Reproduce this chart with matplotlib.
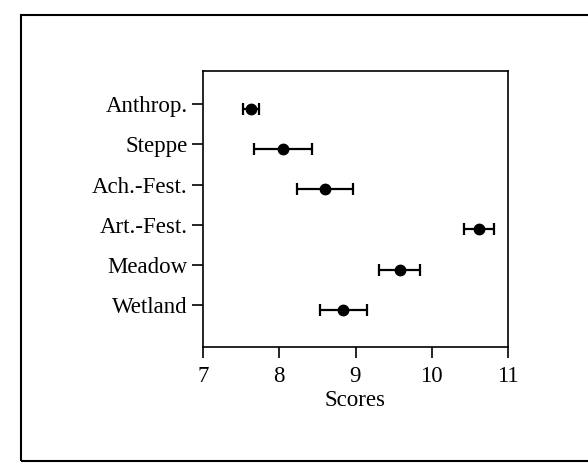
import matplotlib
matplotlib.use("Agg")
import matplotlib.pyplot as plt
from matplotlib.patches import Rectangle

categories = ["Anthrop.", "Steppe", "Ach.-Fest.", "Art.-Fest.", "Meadow", "Wetland"]
scores = [7.63, 8.05, 8.60, 10.62, 9.58, 8.84]
errors = [0.10, 0.38, 0.37, 0.20, 0.27, 0.31]
xticks = [7, 8, 9, 10, 11]

plt.rcParams['font.family'] = ['Liberation Serif', 'DejaVu Serif']

fig = plt.figure(figsize=(5.88, 4.72), dpi=100)
fig.patches.append(Rectangle((21/588, 1-461/472), 600/588, 446/472, transform=fig.transFigure,
                             fill=False, edgecolor='black', linewidth=1.5))
ax = fig.add_axes([203/588, 1-347/472, 305/588, 276/472])
ypos = list(range(len(categories)))
ax.errorbar(scores, [y + 0.12 for y in ypos], xerr=errors, fmt='o', color='black',
            markersize=7.5, capsize=4, elinewidth=1.6, capthick=1.6)
ax.set_xlim(7, 11)
ax.set_ylim(len(categories) - 1 + 1.05, -0.83)
ax.set_yticks(ypos)
ax.set_yticklabels(categories, fontsize=16.5)
ax.set_xticks(xticks)
ax.set_xticklabels([str(t) for t in xticks], fontsize=16.5)
ax.set_xlabel("Scores", fontsize=16.5, labelpad=2)
ax.tick_params(axis='x', direction='out', length=8, width=1.2, pad=6)
ax.tick_params(axis='y', direction='out', length=8, width=1.2, pad=3)
for s in ax.spines.values():
    s.set_linewidth(1.2)
fig.savefig("out.png", dpi=100)
